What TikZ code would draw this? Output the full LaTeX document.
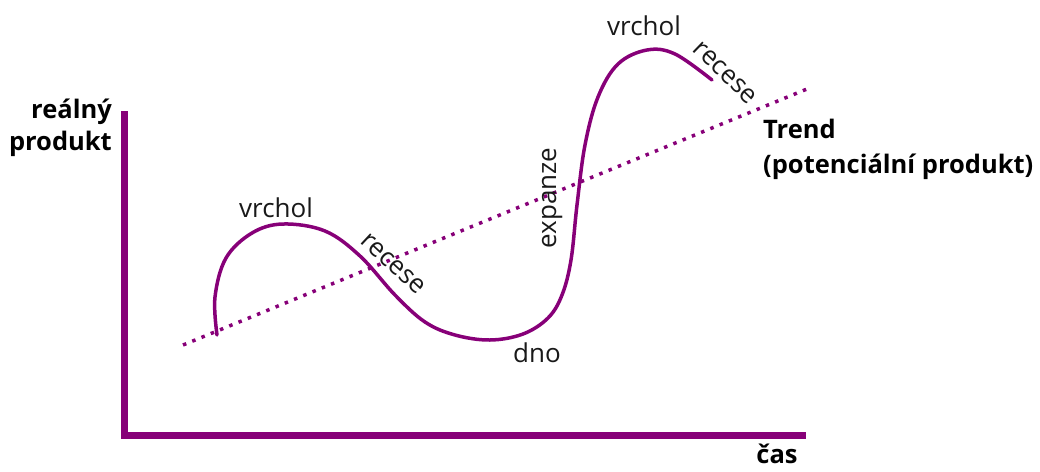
\documentclass[tikz,border=0pt]{standalone}
\usepackage{fontspec}
\setmainfont{Open Sans}
\begin{document}
\begin{tikzpicture}[x=1pt,y=-1pt,
  every node/.style={inner sep=0pt, font=\fontsize{26}{30}\selectfont, text=black!90},
  bold/.style={font=\fontsize{25.5}{30}\selectfont\bfseries, text=black},
  axis/.style={line width=7pt, color=cyc},
  curve/.style={line width=3.5pt, color=cyc, line cap=round},
  trend/.style={line width=3.5pt, color=cyc, dash pattern=on 3.5pt off 6.5pt}]
\definecolor{cyc}{RGB}{135,0,120}
\useasboundingbox (0,0) rectangle (1040,471);
% axes
\coordinate (o) at (124,435);
\coordinate (ytop) at (124,111);
\coordinate (xend) at (806,435);
\draw[axis] (ytop) -- (o) -- (xend);
% trend
\coordinate (t0) at (183,345);
\coordinate (t1) at (807,89);
\draw[trend] (t0) -- (t1);
% cycle curve
\draw[curve] plot[smooth, tension=0.6] coordinates {
 (217,335) (215,297) (226,258) (252,233) (283,224) (325,231) (360,256) (395,295)
 (425,322) (455,335) (490,340) (523,334) (548,318) (562,295) (571,260) (577,205)
 (585,145) (598,97) (618,64) (647,50) (675,54) (712,80)};
% labels
\node[bold, anchor=base east] (yl1) at (112,118) {reálný};
\node[bold, anchor=base east] (yl2) at (112,150) {produkt};
\node[bold, anchor=base] (xl) at (777,463) {čas};
\node[bold, anchor=base west] (tr1) at (763,138) {Trend};
\node[bold, anchor=base west] (tr2) at (763,173) {(potenciální produkt)};
\node[anchor=base] (v1) at (276,217) {vrchol};
\node[anchor=base] (v2) at (644,35) {vrchol};
\node[rotate=-43] (r1) at (393,264) {recese};
\node[rotate=-44] (r2) at (725,73) {recese};
\node[rotate=90, anchor=base] (ex) at (556,198) {expanze};
\node[anchor=base] (dn) at (537,362) {dno};
\end{tikzpicture}
\end{document}
